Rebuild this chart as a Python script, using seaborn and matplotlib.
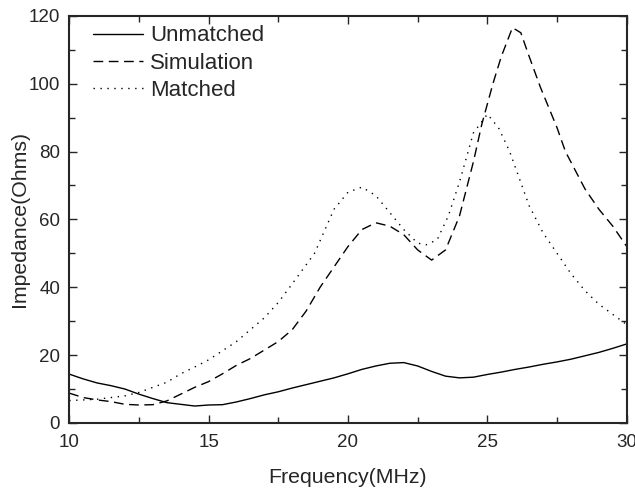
import pandas as pd
import matplotlib
matplotlib.use("Agg")
import matplotlib.pyplot as plt
import seaborn as sns
from matplotlib.ticker import MultipleLocator

# === Hardcoded data ===
freq_unmatched = [10, 10.5, 11, 11.5, 12, 12.5, 13, 13.5, 14, 14.5, 15, 15.5, 16, 16.5, 17, 17.5,
                  18, 18.5, 19, 19.5, 20, 20.5, 21, 21.5, 22, 22.5, 23, 23.5, 24, 24.5, 25, 25.5,
                  26, 26.5, 27, 27.5, 28, 28.5, 29, 29.5, 30]
z_unmatched = [14.4, 13.0, 11.8, 11.0, 10.0, 8.5, 7.2, 6.0, 5.5, 5.0, 5.3, 5.4, 6.2, 7.2, 8.3, 9.2,
               10.3, 11.3, 12.3, 13.3, 14.5, 15.8, 16.8, 17.6, 17.8, 16.8, 15.2, 13.8, 13.3, 13.5, 14.3, 15.0,
               15.8, 16.5, 17.3, 18.0, 18.8, 19.8, 20.8, 22.0, 23.3]

freq_sim = [10, 10.5, 11, 11.5, 12, 12.5, 13, 13.5, 14, 14.5, 15, 15.5, 16, 16.5, 17, 17.5, 18, 18.5,
            19, 19.5, 20, 20.5, 21, 21.5, 22, 22.5, 23, 23.5, 24, 24.5, 24.8, 25.2, 25.5, 25.9,
            26.2, 26.5, 26.9, 27.5, 27.8, 28.5, 29, 29.5, 30]
z_sim = [8.8, 7.5, 6.8, 6.3, 5.5, 5.3, 5.4, 6.5, 8.5, 10.5, 12.2, 14.5, 17.0, 19.0, 21.5, 24.0, 27.5, 33.0,
         40.0, 46.0, 52.0, 57.0, 59.0, 58.0, 55.5, 51.0, 48.0, 51.0, 61.0, 77.0, 88.0, 100.0, 108.0, 116.5,
         115.0, 108.0, 99.0, 87.0, 80.0, 69.0, 63.0, 58.0, 52.0]

freq_matched = [10, 10.5, 11, 11.5, 12, 12.5, 13, 13.5, 14, 14.5, 15, 16, 17, 17.5, 18, 18.8, 19.5, 20,
                20.5, 21, 21.5, 22, 22.5, 22.8, 23.2, 23.6, 24, 24.5, 25, 25.4, 25.8, 26.5, 27, 27.5,
                28, 28.5, 29, 29.5, 30]
z_matched = [6.6, 6.8, 7.0, 7.5, 8.0, 9.0, 10.5, 12.0, 14.5, 16.5, 18.6, 24.0, 31.0, 35.5, 41.0, 50.0, 63.0, 68.0,
             69.5, 67.0, 62.0, 57.0, 53.0, 52.5, 54.0, 61.0, 71.0, 85.5, 91.0, 87.0, 80.0, 64.0, 56.0, 50.0,
             44.0, 39.0, 35.0, 32.0, 29.0]

df = pd.concat([
    pd.DataFrame({"Frequency": freq_unmatched, "Impedance": z_unmatched, "Series": "Unmatched"}),
    pd.DataFrame({"Frequency": freq_sim, "Impedance": z_sim, "Series": "Simulation"}),
    pd.DataFrame({"Frequency": freq_matched, "Impedance": z_matched, "Series": "Matched"}),
], ignore_index=True)

# === Style ===
sns.set_style("ticks")
plt.rcParams["font.family"] = ["Liberation Sans", "DejaVu Sans"]

fig, ax = plt.subplots(figsize=(6.35, 4.93), dpi=100)
fig.subplots_adjust(left=0.109, right=0.987, top=0.968, bottom=0.142)

sns.lineplot(data=df, x="Frequency", y="Impedance", style="Series", color="black",
             dashes={"Unmatched": "", "Simulation": (7, 4), "Matched": (1, 4)},
             linewidth=1.0, sort=False, estimator=None, ax=ax)

ax.set_xlim(10, 30)
ax.set_ylim(0, 120)
ax.xaxis.set_major_locator(MultipleLocator(5))
ax.xaxis.set_minor_locator(MultipleLocator(2.5))
ax.yaxis.set_major_locator(MultipleLocator(20))
ax.yaxis.set_minor_locator(MultipleLocator(10))
ax.tick_params(which="both", direction="in", top=True, right=True, labelsize=13.5, width=1.0)
ax.tick_params(axis="x", which="major", length=6, pad=8)
ax.tick_params(axis="y", which="major", length=6, pad=6.5)
ax.tick_params(which="minor", length=4)
for s in ax.spines.values():
    s.set_linewidth(1.5)

ax.set_xlabel("Frequency(MHz)", fontsize=15.3, labelpad=12)
ax.set_ylabel("Impedance(Ohms)", fontsize=15.3, labelpad=0)

leg = ax.legend(loc="upper left", frameon=False, fontsize=16, handlelength=2.25,
                handletextpad=0.3, labelspacing=0.28, borderaxespad=0.0,
                bbox_to_anchor=(0.027, 0.998))
leg.set_title(None)

fig.savefig("out.png", dpi=100)
